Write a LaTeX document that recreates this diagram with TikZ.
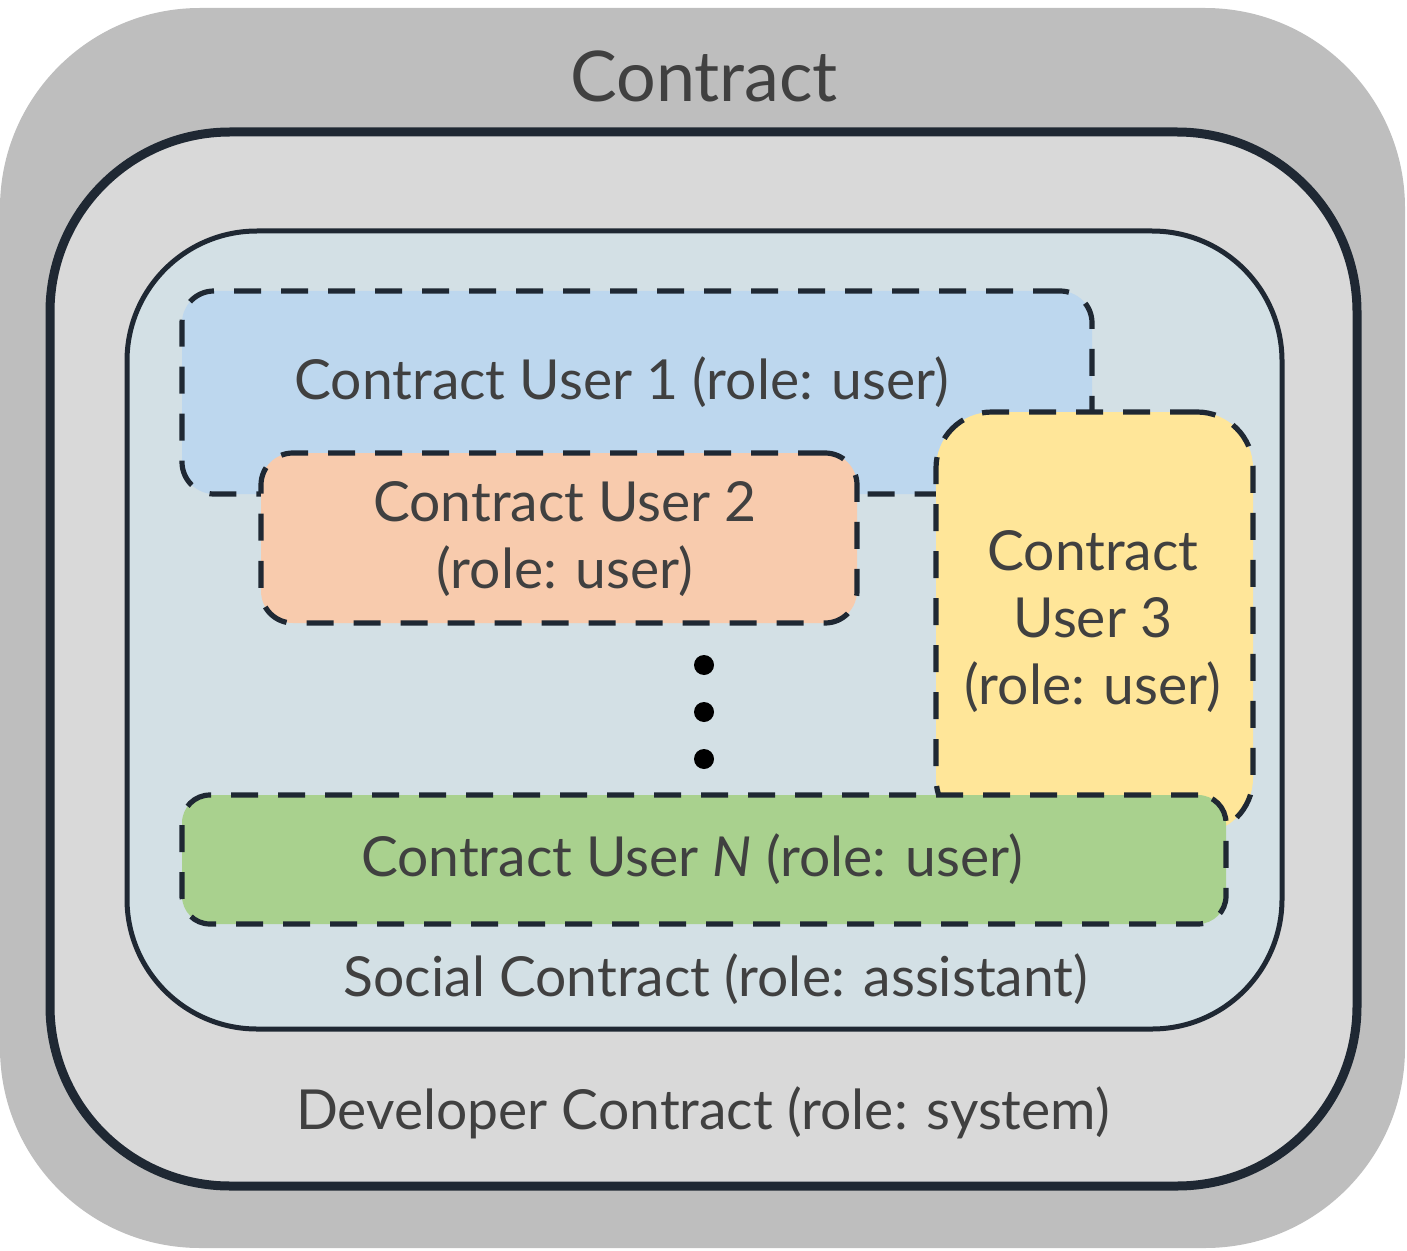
\documentclass[tikz,border=0pt]{standalone}
\usepackage{fontspec}
\setmainfont{Lato}
\usetikzlibrary{fit}
\definecolor{outerg}{HTML}{BEBEBE}
\definecolor{devg}{HTML}{D9D9D9}
\definecolor{socb}{HTML}{D3E0E5}
\definecolor{edge}{HTML}{1F2833}
\definecolor{txt}{HTML}{404040}
\definecolor{ublue}{HTML}{BDD7EE}
\definecolor{uorange}{HTML}{F8CBAD}
\definecolor{uyellow}{HTML}{FFE699}
\definecolor{ugreen}{HTML}{A9D18E}
\tikzset{
  px/.style={x=0.5pt,y=-0.5pt},
  frame/.style={inner sep=0pt, outer sep=0pt},
  userbox/.style={frame, draw=edge, line width=2.6pt, dash pattern=on 13.5pt off 10pt},
  lbl/.style={text=txt, font=\fontsize{27.6}{33.5}\selectfont, align=center, inner sep=0pt},
  dot/.style={circle, fill=black, minimum size=10pt, inner sep=0pt},
}
\begin{document}
\begin{tikzpicture}[px]
\useasboundingbox (0,0) rectangle (1407,1251);
\node[frame, fill=outerg, rounded corners=100pt, fit={(0,8)(1405,1248)}] (outer) {};
\node[frame, fill=devg, draw=edge, line width=4.5pt, rounded corners=90pt, fit={(50,132)(1357,1186)}] (dev) {};
\node[frame, fill=socb, draw=edge, line width=2.5pt, rounded corners=65pt, fit={(127,231)(1282,1029)}] (soc) {};
\node[userbox, fill=ublue, rounded corners=16pt, fit={(182,291)(1092,494)}] (u1) {};
\node[userbox, fill=uorange, rounded corners=16pt, fit={(261,453)(857,623)}] (u2) {};
\node[userbox, fill=uyellow, rounded corners=28pt, fit={(936,412)(1253,834)}] (u3) {};
\node[userbox, fill=ugreen, rounded corners=14pt, fit={(182,795)(1226,924)}] (un) {};
\node[lbl, font=\fontsize{35}{40}\selectfont] (tcontract) at (704,76) {Contract};
\node[lbl] (t1) at (622,382) {Contract User 1 (role: user)};
\node[lbl] (t2) at (565,539) {Contract User 2\\(role: user)};
\node[lbl] (t3) at (1093,622) {Contract\\User 3\\(role: user)};
\node[lbl] (tn) at (692,859) {Contract User \textit{N} (role: user)};
\node[lbl] (tsoc) at (716,979) {Social Contract (role: assistant)};
\node[lbl] (tdev) at (703,1113) {Developer Contract (role: system)};
\node[dot] (d1) at (704,665) {};
\node[dot] (d2) at (704,712) {};
\node[dot] (d3) at (704,759) {};
\end{tikzpicture}
\end{document}
